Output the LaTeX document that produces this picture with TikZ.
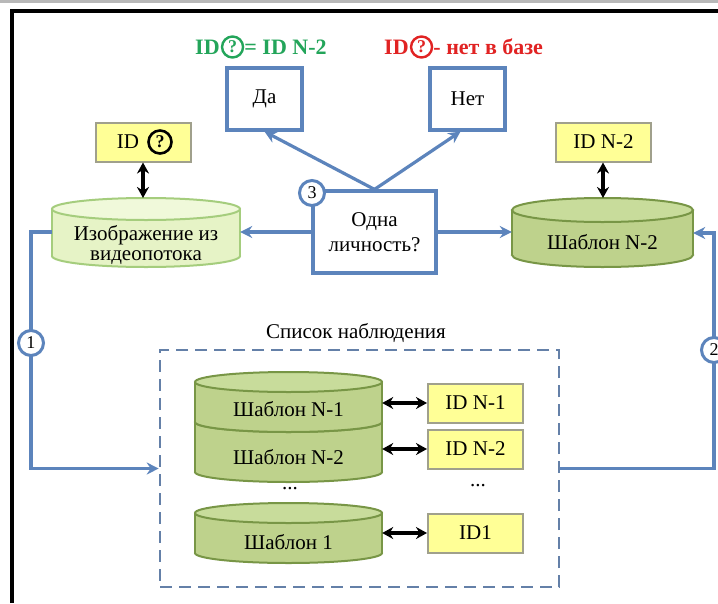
\documentclass[tikz,border=0pt]{standalone}
\usepackage{fontspec}
\setmainfont{Liberation Serif}
\usetikzlibrary{arrows.meta,positioning}
\definecolor{bline}{RGB}{92,132,188}
\definecolor{dline}{RGB}{100,128,168}
\definecolor{yfill}{RGB}{255,255,150}
\definecolor{ydraw}{RGB}{160,160,140}
\definecolor{lgbody}{RGB}{230,243,198}
\definecolor{lgend}{RGB}{240,249,218}
\definecolor{lgdraw}{RGB}{165,205,125}
\definecolor{dgbody}{RGB}{190,210,140}
\definecolor{dgend}{RGB}{200,220,155}
\definecolor{dgdraw}{RGB}{120,150,70}
\definecolor{tgreen}{RGB}{35,165,90}
\definecolor{tred}{RGB}{225,35,35}
\newcommand\drawcyl[8]{%
  \filldraw[fill=#6, draw=#8, line width=2pt] (#1,#4) ellipse [x radius=#2, y radius=#5];
  \fill[#6] (#1-#2,#3) rectangle (#1+#2,#4);
  \draw[#8, line width=2pt] (#1-#2,#3) -- (#1-#2,#4) (#1+#2,#3) -- (#1+#2,#4);
  \filldraw[fill=#7, draw=#8, line width=2pt] (#1,#3) ellipse [x radius=#2, y radius=#5];
}
\begin{document}
\begin{tikzpicture}[x=1pt,y=-1pt,
  every node/.style={font=\fontsize{21}{25}\selectfont, inner sep=0pt},
  bbox/.style={draw=bline, line width=3.2pt, fill=white, align=center},
  ybox/.style={draw=ydraw, line width=2pt, fill=yfill, minimum width=95, minimum height=39},
  numc/.style={circle, draw=bline, line width=3pt, fill=white, minimum size=25, font=\fontsize{18}{18}\selectfont},
  qcirc/.style={circle, line width=2.4pt, minimum size=21, font=\fontsize{18}{18}\selectfont\bfseries},
  gtitle/.style={font=\fontsize{22}{22}\selectfont\bfseries, text=tgreen},
  rtitle/.style={font=\fontsize{22}{22}\selectfont\bfseries, text=tred},
  bl/.style={draw=bline, line width=3.2pt, -{Stealth[length=12pt,width=12pt,inset=4pt]}},
  dbl/.style={draw=black, line width=3.2pt, {Stealth[length=11pt,width=12pt]}-{Stealth[length=11pt,width=12pt]}},
  cyltext/.style={align=center},
  dashbox/.style={draw=dline, line width=2.6pt, dash pattern=on 12pt off 7pt}
]
\useasboundingbox (0,0) rectangle (718,603);
\fill[white] (0,0) rectangle (718,603);
\fill[black!28] (0,0) rectangle (718,3);
\draw[line width=3.4pt] (12,603) -- (12,11) -- (718,11);

% titles
\node[gtitle, anchor=west] (g1) at (195,47) {ID};
\node[qcirc, draw=tgreen, text=tgreen, anchor=west] (gq) at ([xshift=1pt]g1.east) {?};
\node[gtitle, anchor=base west] (g2) at (gq.east |- g1.base) {= ID N-2};
\node[rtitle, anchor=west] (r1) at (384,47) {ID};
\node[qcirc, draw=tred, text=tred, anchor=west] (rq) at ([xshift=1pt]r1.east) {?};
\node[rtitle, anchor=base west] (r2) at (rq.east |- r1.base) {- нет в базе};

% decision boxes
\node[bbox, minimum width=75, minimum height=62] (da) at (264.5,99) {Да};
\node[bbox, minimum width=75, minimum height=62] (net) at (467.5,99) {Нет};
\node[bbox, minimum width=123, minimum height=82] (one) at (374.5,232) {Одна\\личность?};

% cylinders top
\drawcyl{146}{94}{209}{256}{11}{lgbody}{lgend}{lgdraw}
\node[cyltext, minimum width=188, font=\fontsize{21}{20}\selectfont] (img) at (146,245) {Изображение из\\видеопотока};
\coordinate (imgtop) at (143,198);
\drawcyl{602.5}{90.5}{210}{255}{12}{dgbody}{dgend}{dgdraw}
\node[cyltext, minimum width=181] (tn2) at (602.5,242) {Шаблон N-2};
\coordinate (tn2top) at (603,198);

% top id boxes
\node[ybox] (idq) at (143,142) {ID\kern30pt};
\node[qcirc, draw=black, text=black, line width=2.6pt, minimum size=23] (idqc) at (160,142) {?};
\node[ybox] (idtop) at (603.5,142) {ID N-2};
\draw[dbl] (idq.south) -- (imgtop);
\draw[dbl] (idtop.south -| tn2top) -- (tn2top);

% watch list
\node[dashbox, minimum width=399, minimum height=237] (watch) at (359.5,468.5) {};
\node (wl) at (356,333) {Список наблюдения};
\drawcyl{288.5}{93.5}{422}{472}{10}{dgbody}{dgend}{dgdraw}
\drawcyl{288.5}{93.5}{382}{422}{10}{dgbody}{dgend}{dgdraw}
\drawcyl{288.5}{93.5}{513}{553}{10}{dgbody}{dgend}{dgdraw}
\node[cyltext, minimum width=187] (tN1) at (288.5,409) {Шаблон N-1};
\node[cyltext, minimum width=187] (tN2) at (288.5,457) {Шаблон N-2};
\node[cyltext, minimum width=187] (t1) at (288.5,542) {Шаблон 1};
\node (dots1) at (290,489) {...};
\node[ybox] (idN1) at (475.5,403) {ID N-1};
\node[ybox] (idN2) at (475.5,449) {ID N-2};
\node[ybox] (id1) at (475.5,533) {ID1};
\node (dots2) at (478,486) {...};
\draw[dbl] (tN1.east |- idN1.west) -- (idN1.west);
\draw[dbl] (tN2.east |- idN2.west) -- (idN2.west);
\draw[dbl] (t1.east |- id1.west) -- (id1.west);

% blue connectors
\draw[bl] (one.north) -- (da.south);
\draw[bl] (one.north) -- ([xshift=-7pt]net.south);
\draw[bl] (one.west) -- (one.west -| img.east);
\draw[bl] (one.east) -- (one.east -| tn2.west);
\coordinate (lc) at (31,232);
\coordinate (rc) at (714,233);
\draw[bl] (img.west |- one.west) -- (lc) |- (watch.west);
\draw[bl] (watch.east) -| (rc) -- (rc -| tn2.east);
\node[numc] (n1) at (31,343) {1};
\node[numc] (n2) at (714,350) {2};
\node[numc] (n3) at (312,193) {3};
\end{tikzpicture}
\end{document}
